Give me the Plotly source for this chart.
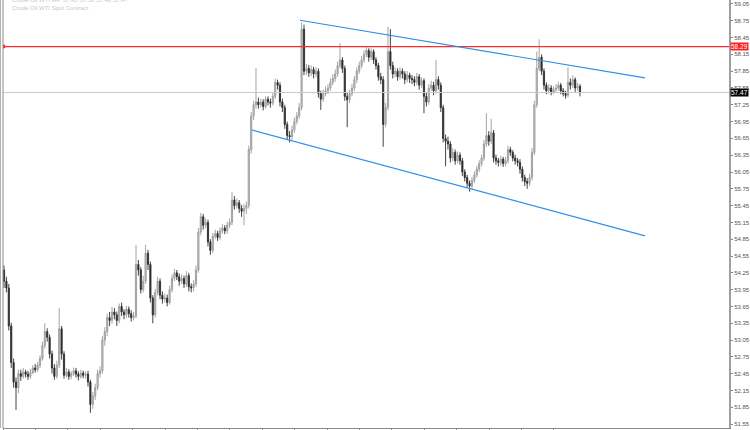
import plotly.graph_objects as go

# ---------------- data ----------------
opens = [
    54.30, 54.10, 53.98, 53.30, 52.65, 52.30, 52.20, 52.45, 52.40, 52.48,
    52.44, 52.40, 52.47, 52.55, 52.52, 52.60, 52.72, 52.95, 53.20, 53.10,
    52.80, 52.55, 52.40, 52.60, 53.25, 52.80, 52.42, 52.48, 52.40, 52.45,
    52.50, 52.44, 52.40, 52.46, 52.42, 52.44, 52.30, 51.90, 52.05, 52.20,
    52.45, 52.50, 53.05, 53.20, 53.45, 53.40, 53.55, 53.50, 53.40, 53.65,
    53.55, 53.50, 53.60, 53.52, 53.45, 53.48, 54.40, 54.30, 53.95, 54.10,
    54.60, 54.40, 53.80, 53.50, 53.90, 54.10, 53.85, 53.78, 53.80, 53.72,
    53.95, 54.15, 54.25, 54.18, 54.10, 54.15, 54.05, 54.20, 54.00, 53.98,
    54.05, 54.30, 54.98, 55.25, 55.10, 55.15, 54.80, 54.65, 54.90, 54.95,
    54.88, 55.00, 55.05, 55.00, 55.10, 55.15, 55.55, 55.45, 55.50, 55.40,
    55.35, 55.40, 55.45, 56.45, 57.05, 57.25, 57.30, 57.25, 57.30, 57.22,
    57.35, 57.30, 57.28, 57.40, 57.65, 57.60, 57.30, 57.20, 56.90, 56.70,
    56.68, 56.80, 56.95, 57.05, 57.20, 58.60, 57.85, 57.90, 57.82, 57.88,
    57.80, 57.85, 57.45, 57.35, 57.45, 57.50, 57.55, 57.65, 57.72, 57.80,
    57.95, 58.05, 57.90, 57.40, 57.34, 57.45, 57.55, 57.70, 57.85, 57.95,
    58.05, 58.15, 58.22, 58.10, 58.20, 58.05, 57.95, 57.75, 57.70, 56.90,
    57.20, 58.20, 57.95, 57.80, 57.85, 57.75, 57.85, 57.80, 57.70, 57.78,
    57.72, 57.70, 57.65, 57.75, 57.60, 57.68, 57.40, 57.30, 57.55, 57.60,
    57.50, 57.70, 57.60, 57.20, 56.65, 56.60, 56.55, 56.30, 56.40, 56.25,
    56.35, 56.25, 56.05, 55.95, 55.85, 55.80, 55.90, 56.00, 56.10, 56.20,
    56.30, 56.55, 56.70, 56.60, 56.75, 56.30, 56.25, 56.22, 56.28, 56.20,
    56.25, 56.45, 56.40, 56.30, 56.25, 56.22, 56.10, 55.95, 55.88, 55.85,
    55.95, 56.40, 57.25, 57.90, 58.10, 57.85, 57.60, 57.50, 57.55, 57.48,
    57.52, 57.55, 57.60, 57.50, 57.45, 57.42, 57.65, 57.60, 57.70, 57.55,
    57.58,
]
highs = [
    54.38, 54.18, 54.05, 53.36, 52.72, 52.38, 52.52, 52.52, 52.55, 52.52,
    52.50, 52.53, 52.60, 52.62, 52.66, 52.78, 53.02, 53.35, 53.26, 53.15,
    52.86, 52.62, 52.68, 53.62, 53.30, 52.85, 52.55, 52.53, 52.50, 52.56,
    52.55, 52.49, 52.52, 52.50, 52.49, 52.50, 52.34, 52.12, 52.27, 52.52,
    52.58, 53.12, 53.28, 53.52, 53.55, 53.64, 53.62, 53.56, 53.70, 53.72,
    53.60, 53.66, 53.65, 53.58, 53.55, 54.75, 54.48, 54.35, 54.20, 54.75,
    54.66, 54.45, 53.85, 53.96, 54.18, 54.15, 53.92, 53.88, 53.86, 54.02,
    54.22, 54.32, 54.30, 54.24, 54.22, 54.20, 54.28, 54.25, 54.06, 54.12,
    54.38, 55.05, 55.32, 55.30, 55.22, 55.20, 54.85, 54.96, 55.02, 55.00,
    55.06, 55.12, 55.10, 55.16, 55.22, 55.69, 55.62, 55.58, 55.55, 55.46,
    55.48, 55.52, 56.52, 57.12, 57.32, 57.91, 57.38, 57.36, 57.35, 57.40,
    57.40, 57.36, 57.46, 57.72, 57.70, 57.65, 57.36, 57.25, 56.95, 56.78,
    56.88, 57.02, 57.12, 57.28, 58.72, 58.68, 57.98, 57.96, 57.95, 57.93,
    57.92, 57.90, 57.50, 57.52, 57.58, 57.62, 57.72, 57.80, 57.88, 58.02,
    58.35, 58.10, 57.95, 57.48, 57.52, 57.62, 57.76, 57.92, 58.02, 58.12,
    58.22, 58.28, 58.26, 58.26, 58.24, 58.10, 58.00, 57.82, 57.76, 57.28,
    58.64, 58.60, 58.02, 57.92, 57.90, 57.92, 57.90, 57.85, 57.85, 57.82,
    57.78, 57.76, 57.82, 57.80, 57.74, 57.72, 57.46, 57.62, 57.68, 57.66,
    58.05, 57.76, 57.65, 57.25, 56.72, 56.68, 56.60, 56.48, 56.45, 56.42,
    56.40, 56.30, 56.10, 56.00, 55.90, 55.96, 56.06, 56.16, 56.26, 56.36,
    56.62, 57.10, 56.78, 57.00, 56.80, 56.36, 56.30, 56.34, 56.32, 56.32,
    56.52, 56.50, 56.44, 56.36, 56.30, 56.28, 56.15, 56.00, 55.94, 56.02,
    56.48, 57.32, 58.20, 58.42, 58.15, 57.90, 57.65, 57.62, 57.60, 57.58,
    57.62, 57.66, 57.64, 57.55, 57.50, 57.92, 57.72, 57.78, 57.74, 57.64,
    57.62,
]
lows = [
    53.98, 53.90, 53.22, 52.55, 52.20, 51.80, 52.10, 52.32, 52.36, 52.38,
    52.34, 52.36, 52.44, 52.47, 52.48, 52.55, 52.68, 52.90, 53.02, 52.72,
    52.45, 52.34, 52.36, 52.55, 52.70, 52.36, 52.38, 52.34, 52.35, 52.41,
    52.38, 52.33, 52.36, 52.37, 52.36, 52.22, 51.75, 51.82, 51.98, 52.15,
    52.38, 52.45, 52.95, 53.12, 53.30, 53.34, 53.42, 53.30, 53.35, 53.48,
    53.42, 53.44, 53.45, 53.38, 53.40, 53.44, 54.20, 53.88, 53.90, 54.05,
    54.30, 53.72, 53.35, 53.45, 53.85, 53.78, 53.70, 53.72, 53.65, 53.68,
    53.90, 54.10, 54.12, 54.02, 54.05, 53.98, 54.00, 53.92, 53.90, 53.92,
    54.00, 54.25, 54.92, 55.02, 55.05, 54.72, 54.57, 54.60, 54.85, 54.82,
    54.84, 54.95, 54.94, 54.95, 55.05, 55.10, 55.38, 55.40, 55.32, 55.25,
    55.10, 55.30, 55.40, 56.38, 56.98, 57.18, 57.18, 57.20, 57.15, 57.18,
    57.24, 57.20, 57.24, 57.35, 57.52, 57.22, 57.12, 56.82, 56.62, 56.58,
    56.62, 56.75, 56.90, 57.00, 57.15, 57.78, 57.78, 57.75, 57.76, 57.72,
    57.74, 57.38, 57.16, 57.30, 57.40, 57.44, 57.50, 57.60, 57.66, 57.75,
    57.90, 57.82, 57.32, 56.85, 57.28, 57.40, 57.50, 57.64, 57.80, 57.90,
    58.00, 58.10, 58.02, 58.05, 57.98, 57.88, 57.68, 57.62, 56.50, 56.85,
    57.15, 57.88, 57.72, 57.74, 57.68, 57.70, 57.72, 57.62, 57.65, 57.64,
    57.62, 57.58, 57.60, 57.52, 57.55, 57.10, 57.22, 57.25, 57.50, 57.42,
    57.45, 57.52, 57.12, 56.58, 56.15, 56.45, 56.22, 56.24, 56.18, 56.20,
    56.18, 55.98, 55.88, 55.78, 55.70, 55.75, 55.85, 55.95, 56.05, 56.15,
    56.25, 56.50, 56.52, 56.55, 56.22, 56.18, 56.15, 56.16, 56.14, 56.15,
    56.20, 56.34, 56.24, 56.18, 56.15, 56.02, 55.88, 55.80, 55.75, 55.80,
    55.90, 56.35, 57.20, 57.85, 57.78, 57.52, 57.44, 57.45, 57.42, 57.44,
    57.48, 57.50, 57.44, 57.40, 57.36, 57.38, 57.52, 57.55, 57.48, 57.50,
    57.40,
]
closes = [
    54.10, 53.98, 53.30, 52.65, 52.30, 52.20, 52.45, 52.40, 52.48, 52.44,
    52.40, 52.47, 52.55, 52.52, 52.60, 52.72, 52.95, 53.20, 53.10, 52.80,
    52.55, 52.40, 52.60, 53.25, 52.80, 52.42, 52.48, 52.40, 52.45, 52.50,
    52.44, 52.40, 52.46, 52.42, 52.44, 52.30, 51.90, 52.05, 52.20, 52.45,
    52.50, 53.05, 53.20, 53.45, 53.40, 53.55, 53.50, 53.40, 53.65, 53.55,
    53.50, 53.60, 53.52, 53.45, 53.48, 54.40, 54.30, 53.95, 54.10, 54.60,
    54.40, 53.80, 53.50, 53.90, 54.10, 53.85, 53.78, 53.80, 53.72, 53.95,
    54.15, 54.25, 54.18, 54.10, 54.15, 54.05, 54.20, 54.00, 53.98, 54.05,
    54.30, 54.98, 55.25, 55.10, 55.15, 54.80, 54.65, 54.90, 54.95, 54.88,
    55.00, 55.05, 55.00, 55.10, 55.15, 55.55, 55.45, 55.50, 55.40, 55.35,
    55.40, 55.45, 56.45, 57.05, 57.25, 57.30, 57.25, 57.30, 57.22, 57.35,
    57.30, 57.28, 57.40, 57.65, 57.60, 57.30, 57.20, 56.90, 56.70, 56.68,
    56.80, 56.95, 57.05, 57.20, 58.60, 57.85, 57.90, 57.82, 57.88, 57.80,
    57.85, 57.45, 57.35, 57.45, 57.50, 57.55, 57.65, 57.72, 57.80, 57.95,
    58.05, 57.90, 57.40, 57.34, 57.45, 57.55, 57.70, 57.85, 57.95, 58.05,
    58.15, 58.22, 58.10, 58.20, 58.05, 57.95, 57.75, 57.70, 56.90, 57.20,
    58.20, 57.95, 57.80, 57.85, 57.75, 57.85, 57.80, 57.70, 57.78, 57.72,
    57.70, 57.65, 57.75, 57.60, 57.68, 57.40, 57.30, 57.55, 57.60, 57.50,
    57.70, 57.60, 57.20, 56.65, 56.60, 56.55, 56.30, 56.40, 56.25, 56.35,
    56.25, 56.05, 55.95, 55.85, 55.80, 55.90, 56.00, 56.10, 56.20, 56.30,
    56.55, 56.70, 56.60, 56.75, 56.30, 56.25, 56.22, 56.28, 56.20, 56.25,
    56.45, 56.40, 56.30, 56.25, 56.22, 56.10, 55.95, 55.88, 55.85, 55.95,
    56.40, 57.25, 57.90, 58.10, 57.85, 57.60, 57.50, 57.55, 57.48, 57.52,
    57.55, 57.60, 57.50, 57.45, 57.42, 57.65, 57.60, 57.70, 57.55, 57.58,
    57.47,
]
bar_index = list(range(len(closes)))

price_ticks = [59.05, 58.75, 58.45, 58.15, 57.85, 57.55, 57.25, 56.95, 56.65,
               56.35, 56.05, 55.75, 55.45, 55.15, 54.85, 54.55, 54.25, 53.95,
               53.65, 53.35, 53.05, 52.75, 52.45, 52.15, 51.85, 51.55]
time_ticks = [-0.4, 13.1, 26.6, 40.1, 53.6, 67.1, 80.6, 94.1, 107.6, 121.1,
              134.6, 148.1, 161.6, 175.1, 188.6, 202.1, 215.6, 229.1]

resistance_level = 58.29
last_price = 57.47
# channel lines: (bar index, price) end points
upper_channel = [(123.3, 58.76), (267.1, 57.73)]
lower_channel = [(103.3, 56.80), (267.1, 54.91)]

# ---------------- figure ----------------
fig = go.Figure()
fig.add_trace(go.Candlestick(
    x=bar_index, open=opens, high=highs, low=lows, close=closes,
    increasing=dict(line=dict(color="#9a9a9a", width=0.9), fillcolor="#c8c8c8"),
    decreasing=dict(line=dict(color="#2e2e2e", width=0.9), fillcolor="#2e2e2e"),
    whiskerwidth=0, showlegend=False, hoverinfo="skip",
))
fig.add_trace(go.Scatter(
    x=[-0.2], y=[resistance_level], mode="markers",
    marker=dict(color="#ff2020", size=4), showlegend=False, hoverinfo="skip",
))

shapes = [
    dict(type="line", xref="paper", x0=0, x1=1, yref="y",
         y0=last_price, y1=last_price, line=dict(color="#c9c9c9", width=1)),
    dict(type="line", xref="paper", x0=0, x1=1, yref="y",
         y0=resistance_level, y1=resistance_level,
         line=dict(color="#ff2b2b", width=1.2)),
    dict(type="line", xref="x", yref="y",
         x0=upper_channel[0][0], y0=upper_channel[0][1],
         x1=upper_channel[1][0], y1=upper_channel[1][1],
         line=dict(color="#2f8fe8", width=1.2)),
    dict(type="line", xref="x", yref="y",
         x0=lower_channel[0][0], y0=lower_channel[0][1],
         x1=lower_channel[1][0], y1=lower_channel[1][1],
         line=dict(color="#2f8fe8", width=1.2)),
    dict(type="line", xref="paper", yref="paper", x0=-2.5/726, x1=-2.5/726,
         y0=0, y1=1, line=dict(color="#b0b0b0", width=1)),
    dict(type="line", xref="paper", yref="paper", x0=0, x1=0,
         y0=0, y1=1, line=dict(color="#8a8a8a", width=1)),
]

annotations = [
    dict(xref="paper", x=1.0, xanchor="left", yref="y", y=resistance_level,
         text="58.29", showarrow=False, bgcolor="#ff2020",
         font=dict(color="white", size=6.5, family="Liberation Sans"),
         borderpad=0, xshift=1),
    dict(xref="paper", x=1.0, xanchor="left", yref="y", y=last_price,
         text="57.47", showarrow=False, bgcolor="#000000",
         font=dict(color="white", size=6.5, family="Liberation Sans"),
         borderpad=0, xshift=1),
    dict(xref="paper", x=0.01, xanchor="left", yref="paper", y=1.0,
         yanchor="top", yshift=5,
         text="Crude Oil WTI,H4  57.45 57.50 57.40 57.47<br>Crude Oil WTI Spot Contract",
         showarrow=False, align="left",
         font=dict(color="#c8c8c8", size=6, family="Liberation Sans")),
]

fig.update_layout(
    width=750, height=430,
    margin=dict(l=3, r=21, t=0, b=2),
    paper_bgcolor="white", plot_bgcolor="white",
    shapes=shapes, annotations=annotations,
    xaxis=dict(range=[-0.42, 302.1], rangeslider=dict(visible=False),
               showgrid=False, zeroline=False, showline=True,
               linecolor="#8a8a8a", linewidth=1, ticks="outside",
               ticklen=3, tickcolor="#8a8a8a", tickvals=time_ticks,
               showticklabels=False, fixedrange=True),
    yaxis=dict(range=[51.479, 59.121], side="right", showgrid=False,
               zeroline=False, showline=True, linecolor="#a0a0a0",
               linewidth=2, ticks="outside", ticklen=2, tickcolor="#808080",
               tickvals=price_ticks, ticktext=[f"{v:.2f}" for v in price_ticks],
               tickfont=dict(size=6, color="#555555", family="Liberation Sans"),
               automargin=False, fixedrange=True),
)

fig.write_html(
    "out.html",
    config={"displayModeBar": False},
    post_script="document.body.style.margin='0';document.body.style.overflow='hidden';",
)
